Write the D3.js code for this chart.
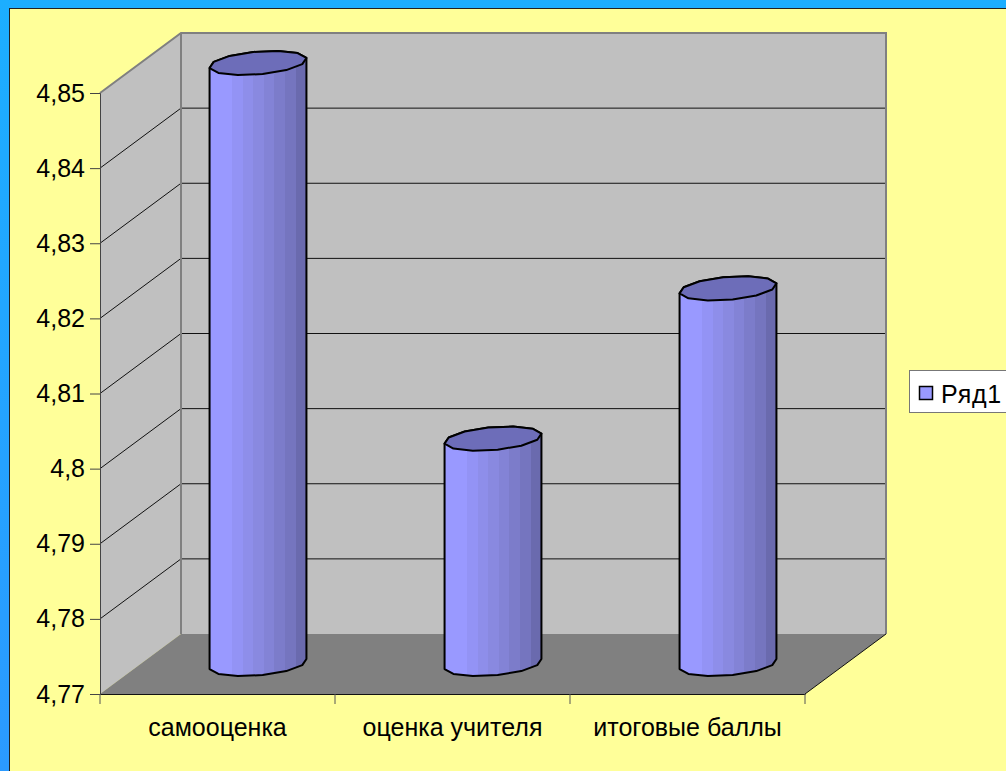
<!DOCTYPE html>
<html>
<head>
<meta charset="utf-8">
<script src="https://cdn.jsdelivr.net/npm/d3@7"></script>
<style>
  html, body { margin: 0; padding: 0; background: #ffff99; overflow: hidden; }
  text { font-family: "Liberation Sans", Arial, sans-serif; fill: #000; }
</style>
</head>
<body>
<div id="chart"></div>
<script>
// Data
const categories = ["самооценка", "оценка учителя", "итоговые баллы"];
const seriesValues = [4.85, 4.80, 4.82];
const seriesName = "Ряд1";
const yTicks = [4.77, 4.78, 4.79, 4.80, 4.81, 4.82, 4.83, 4.84, 4.85];
const yTickLabels = ["4,77", "4,78", "4,79", "4,8", "4,81", "4,82", "4,83", "4,84", "4,85"];

const width = 1006, height = 771;
// plot front plane and 3d depth offset
const plot = { left: 100, right: 805, top: 93, bottom: 694 };
const depth = { x: 81, y: -60 };

const svg = d3.select("#chart").append("svg")
    .attr("width", width)
    .attr("height", height)
    .style("display", "block");

const defs = svg.append("defs");

const bg = defs.append("linearGradient").attr("id", "frame")
    .attr("x1", 0).attr("y1", 0).attr("x2", 0).attr("y2", 1);
bg.append("stop").attr("offset", 0).attr("stop-color", "#1caeff");
bg.append("stop").attr("offset", 1).attr("stop-color", "#2b9aff");

// stepped shading across the cylinder
const bands = ["#9999ff", "#9393f5", "#8e8eea", "#8989e0", "#8383d6", "#7c7cca", "#7575bf", "#6a6aae"];
const body = defs.append("linearGradient").attr("id", "body");
bands.forEach((c, i) => {
    body.append("stop").attr("offset", i === 0 ? 0 : 0.12 + i * 0.11).attr("stop-color", c);
    body.append("stop").attr("offset", i === bands.length - 1 ? 1 : 0.12 + (i + 1) * 0.11).attr("stop-color", c);
});

// Frame
svg.append("rect").attr("width", width).attr("height", height).attr("fill", "url(#frame)");
svg.append("rect")
    .attr("x", 9.5).attr("y", 8.5)
    .attr("width", width).attr("height", height)
    .attr("fill", "#ffff99")
    .attr("stroke", "#222")
    .attr("stroke-width", 1);

// Scales
const yScale = d3.scaleLinear().domain([4.77, 4.85]).range([plot.bottom, plot.top]);
const xScale = d3.scaleBand().domain(categories).range([plot.left, plot.right]);

const line = d3.line();
const yTop = yScale(4.85), yBot = yScale(4.77);

// Walls and floor
svg.append("path")
    .attr("d", line([[plot.left, yTop], [plot.left + depth.x, yTop + depth.y], [plot.left + depth.x, yBot + depth.y], [plot.left, yBot]]) + "Z")
    .attr("fill", "#c0c0c0");
svg.append("rect")
    .attr("x", plot.left + depth.x).attr("y", yTop + depth.y)
    .attr("width", plot.right - plot.left).attr("height", yBot - yTop)
    .attr("fill", "#c0c0c0");
svg.append("path")
    .attr("d", line([[plot.left, yBot], [plot.right, yBot], [plot.right + depth.x, yBot + depth.y], [plot.left + depth.x, yBot + depth.y]]) + "Z")
    .attr("fill", "#808080");

// Gridlines
yTicks.slice(1, -1).forEach(t => {
    svg.append("path")
        .attr("d", line([[plot.left, yScale(t)], [plot.left + depth.x, yScale(t) + depth.y], [plot.right + depth.x, yScale(t) + depth.y]]))
        .attr("fill", "none")
        .attr("stroke", "#111")
        .attr("stroke-width", 1);
});

// Wall edges
svg.append("path")
    .attr("d", line([[plot.left, yTop], [plot.left + depth.x, yTop + depth.y], [plot.right + depth.x, yTop + depth.y], [plot.right + depth.x, yBot + depth.y]]))
    .attr("fill", "none").attr("stroke", "#808080").attr("stroke-width", 2);
svg.append("line")
    .attr("x1", plot.left + depth.x).attr("x2", plot.left + depth.x)
    .attr("y1", yTop + depth.y).attr("y2", yBot + depth.y)
    .attr("stroke", "#808080").attr("stroke-width", 2);
svg.append("line")
    .attr("x1", plot.right).attr("x2", plot.right + depth.x)
    .attr("y1", yBot).attr("y2", yBot + depth.y)
    .attr("stroke", "#111").attr("stroke-width", 1);

// Axes
const yAxis = svg.append("g")
    .attr("transform", `translate(${plot.left},0)`)
    .call(d3.axisLeft(yScale).tickValues(yTicks).tickFormat((d, i) => yTickLabels[i]).tickSize(10).tickPadding(5));
yAxis.selectAll("text").style("font-size", "25px");
yAxis.selectAll("line").attr("stroke", "#444");
yAxis.select(".domain").attr("stroke", "#444");

const xAxis = svg.append("g")
    .attr("transform", `translate(0,${plot.bottom})`)
    .call(d3.axisBottom(xScale).tickSize(0).tickPadding(24));
xAxis.selectAll("text").style("font-size", "25px");
xAxis.select(".domain").attr("stroke", "#111");
svg.append("g")
    .selectAll("line")
    .data(d3.range(categories.length + 1))
    .enter()
    .append("line")
    .attr("x1", i => plot.left + i * xScale.step())
    .attr("x2", i => plot.left + i * xScale.step())
    .attr("y1", plot.bottom)
    .attr("y2", plot.bottom + 10)
    .attr("stroke", "#555");

// Cylinder outline: a coarse circle laid in the depth plane
const barRadius = { ax: 48, ay: -2, bx: 8, by: -12 };
const segments = 12;
function ring(cx, cy) {
    return d3.range(segments).map(i => {
        const t = (i + 0.5) / segments * 2 * Math.PI;
        return [cx + barRadius.ax * Math.cos(t) + barRadius.bx * Math.sin(t),
                cy + barRadius.ay * Math.cos(t) + barRadius.by * Math.sin(t)];
    });
}

categories.forEach((c, i) => {
    const cx = xScale(c) + xScale.bandwidth() / 2 + depth.x / 2;
    const baseY = yScale(4.77) + depth.y / 2 + 0;
    const topY = yScale(seriesValues[i]) + depth.y / 2 + 0;
    const capRing = ring(cx, topY);
    const baseRing = ring(cx, baseY);
    const hull = d3.polygonHull(capRing.concat(baseRing));

    svg.append("path")
        .attr("d", line(hull) + "Z")
        .attr("fill", "url(#body)")
        .attr("stroke", "#000")
        .attr("stroke-width", 2)
        .attr("stroke-linejoin", "round");
    svg.append("path")
        .attr("d", line(capRing) + "Z")
        .attr("fill", "#6d6db9")
        .attr("stroke", "#000")
        .attr("stroke-width", 2)
        .attr("stroke-linejoin", "round");
});

// Legend
svg.append("rect")
    .attr("x", 909.5).attr("y", 370.5)
    .attr("width", 110).attr("height", 42)
    .attr("fill", "#fff")
    .attr("stroke", "#777");
svg.append("rect")
    .attr("x", 919.5).attr("y", 386.5)
    .attr("width", 13).attr("height", 13)
    .attr("fill", "#9999ff")
    .attr("stroke", "#000")
    .attr("stroke-width", 1.5);
svg.append("text")
    .attr("x", 941)
    .attr("y", 403)
    .style("font-size", "25px")
    .style("letter-spacing", "0.8px")
    .text(seriesName);
</script>
</body>
</html>
